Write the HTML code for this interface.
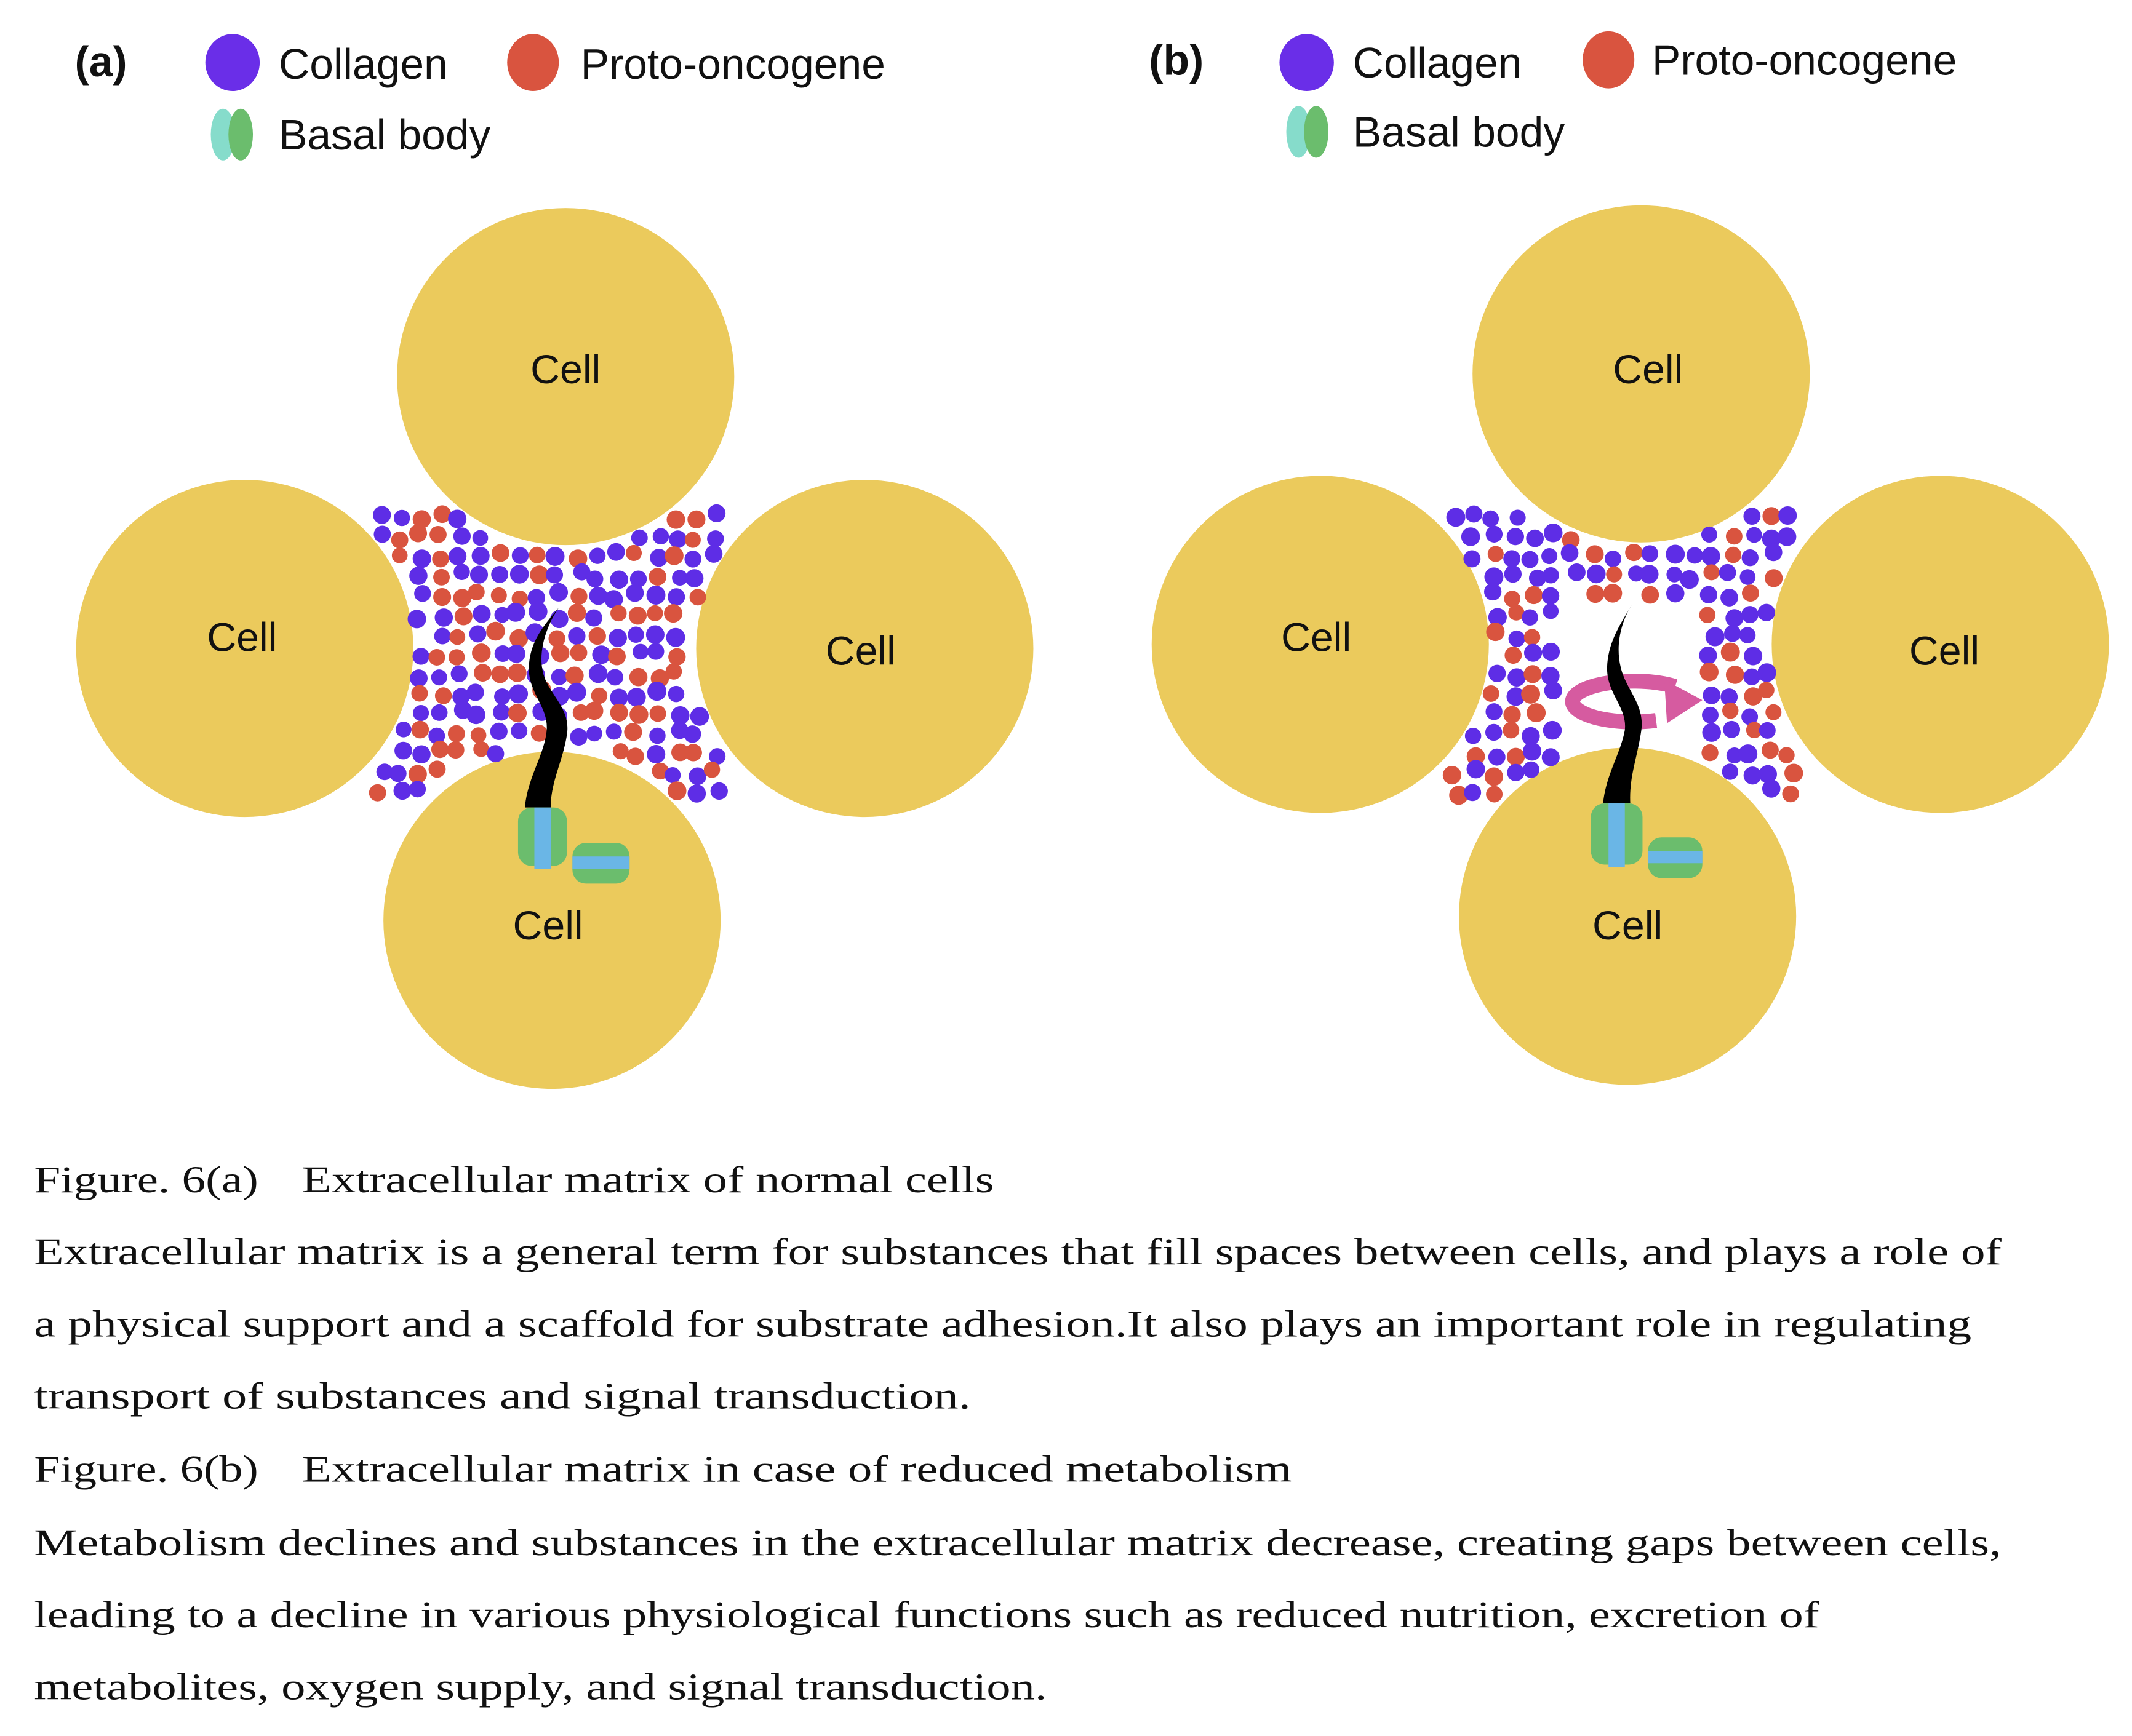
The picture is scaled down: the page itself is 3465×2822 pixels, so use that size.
<!DOCTYPE html>
<html><head><meta charset="utf-8"><style>
html,body{margin:0;padding:0;background:#fff;}
svg{display:block;}
</style></head><body>
<svg id="s" width="3465" height="2822" viewBox="0 0 1568 1277" preserveAspectRatio="none" xmlns="http://www.w3.org/2000/svg">
<rect width="1568" height="1277" fill="#fff"/>
<g font-family="Liberation Sans, sans-serif" font-size="31.5" fill="#111">
<text x="55" y="56" font-weight="bold">(a)</text>
<ellipse cx="171" cy="46" rx="20" ry="21" fill="#6a2ee8"/>
<text x="205" y="58">Collagen</text>
<ellipse cx="392" cy="46" rx="19" ry="21" fill="#d9543f"/>
<text x="427" y="58">Proto-oncogene</text>
<ellipse cx="164" cy="99" rx="9" ry="19" fill="#86dccb"/>
<ellipse cx="177" cy="99" rx="9" ry="19" fill="#6bbd6d"/>
<text x="205" y="110">Basal body</text>

<text x="845" y="55" font-weight="bold">(b)</text>
<ellipse cx="961" cy="46" rx="20" ry="21" fill="#6a2ee8"/>
<text x="995" y="57">Collagen</text>
<ellipse cx="1183" cy="44" rx="19" ry="21" fill="#d9543f"/>
<text x="1215" y="55">Proto-oncogene</text>
<ellipse cx="955" cy="97" rx="9" ry="19" fill="#86dccb"/>
<ellipse cx="968" cy="97" rx="9" ry="19" fill="#6bbd6d"/>
<text x="995" y="108">Basal body</text>
</g>
<g fill="#ebca5c">
<circle cx="416" cy="277" r="124"/><circle cx="180" cy="477" r="124"/><circle cx="636" cy="477" r="124"/><circle cx="406" cy="677" r="124"/>
<circle cx="1207" cy="275" r="124"/><circle cx="971" cy="474" r="124"/><circle cx="1427" cy="474" r="124"/><circle cx="1197" cy="674" r="124"/>
</g>
<g id="dots"></g>
<path d="M1232,505 A45,15 0 1 0 1218,530" fill="none" stroke="#d65ba0" stroke-width="11"/>
<polygon points="1224,500 1252,515 1226,532" fill="#d65ba0"/>
<path d="M411,447 C402,460 396,478 399,493 C402,510 420,520 417,540 C414,560 405,575 405,594 L386,594 C388,572 400,556 402,538 C404,520 388,510 389,490 C390,470 402,458 411,447 Z" fill="#000"/>
<path d="M1200,445 C1192,458 1188,475 1192,491 C1196,508 1210,518 1207,538 C1204,558 1198,572 1199,591 L1179,591 C1181,570 1192,554 1195,537 C1197,520 1181,510 1182,490 C1183,470 1194,456 1200,445 Z" fill="#000"/>
<g>
<rect x="381" y="594" width="36" height="43" rx="10" fill="#6bbd6d"/><rect x="393" y="594" width="12" height="45" fill="#6ab6e6"/>
<rect x="421" y="620" width="42" height="30" rx="10" fill="#6bbd6d"/><rect x="421" y="630" width="42" height="9" fill="#6ab6e6"/>
<rect x="1170" y="591" width="38" height="45" rx="10" fill="#6bbd6d"/><rect x="1183" y="591" width="12" height="47" fill="#6ab6e6"/>
<rect x="1212" y="616" width="40" height="30" rx="10" fill="#6bbd6d"/><rect x="1212" y="626" width="40" height="9" fill="#6ab6e6"/>
</g>
<g font-family="Liberation Sans, sans-serif" font-size="30" fill="#111" text-anchor="middle">
<text x="416" y="282">Cell</text><text x="178" y="479">Cell</text><text x="633" y="489">Cell</text><text x="403" y="691">Cell</text>
<text x="1212" y="282">Cell</text><text x="968" y="479">Cell</text><text x="1430" y="489">Cell</text><text x="1197" y="691">Cell</text>
</g>
<g font-family="Liberation Serif, serif" font-size="28" fill="#111">
<text x="25" y="877" textLength="165" lengthAdjust="spacingAndGlyphs">Figure. 6(a)</text>
<text x="222" y="877" textLength="509" lengthAdjust="spacingAndGlyphs">Extracellular matrix of normal cells</text>
<text x="25" y="930" textLength="1447" lengthAdjust="spacingAndGlyphs">Extracellular matrix is a general term for substances that fill spaces between cells, and plays a role of</text>
<text x="25" y="983" textLength="1425" lengthAdjust="spacingAndGlyphs">a physical support and a scaffold for substrate adhesion.It also plays an important role in regulating</text>
<text x="25" y="1036" textLength="689" lengthAdjust="spacingAndGlyphs">transport of substances and signal transduction.</text>
<text x="25" y="1090" textLength="165" lengthAdjust="spacingAndGlyphs">Figure. 6(b)</text>
<text x="222" y="1090" textLength="728" lengthAdjust="spacingAndGlyphs">Extracellular matrix in case of reduced metabolism</text>
<text x="25" y="1144" textLength="1447" lengthAdjust="spacingAndGlyphs">Metabolism declines and substances in the extracellular matrix decrease, creating gaps between cells,</text>
<text x="25" y="1197" textLength="1313" lengthAdjust="spacingAndGlyphs">leading to a decline in various physiological functions such as reduced nutrition, excretion of</text>
<text x="25" y="1250" textLength="745" lengthAdjust="spacingAndGlyphs">metabolites, oxygen supply, and signal transduction.</text>
</g>
</svg>
<script>
(function(){
var seed=12345;function r(){seed=(seed*1103515245+12345)%2147483648;return seed/2147483648;}
var g=document.getElementById('dots');var NS='http://www.w3.org/2000/svg';
function gen(cells,x0,x1,y0,y1,hollow){
 for(var y=y0;y<=y1;y+=14.5){for(var x=x0;x<=x1;x+=14.5){
  var px=x+(r()-0.5)*6, py=y+(r()-0.5)*6; var ok=true;
  for(var i=0;i<cells.length;i++){var c=cells[i];var dx=px-c[0],dy=py-c[1];if(Math.sqrt(dx*dx+dy*dy)<c[2]+4){ok=false;break;}}
  if(hollow&&px>hollow[0]&&px<hollow[1]&&py>hollow[2])ok=false;
  if(!ok)continue;
  var e=document.createElementNS(NS,'circle');e.setAttribute('cx',px.toFixed(1));e.setAttribute('cy',py.toFixed(1));
  e.setAttribute('r',(5.8+r()*1.2).toFixed(1));e.setAttribute('fill',r()<0.35?'#d9543f':'#5e2de6');g.appendChild(e);
 }}
}
gen([[416,277,124],[180,477,124],[636,477,124],[406,677,124]],280,538,380,596,null);
gen([[1207,275,124],[971,474,124],[1427,474,124],[1197,674,124]],1070,1324,380,596,[1143,1250,440]);
})();
</script>
</body></html>
